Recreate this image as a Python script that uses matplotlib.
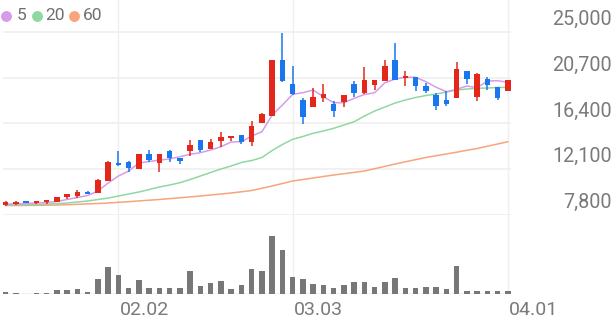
import matplotlib
matplotlib.use('Agg')
import matplotlib.pyplot as plt
import matplotlib.transforms as mtransforms
from matplotlib.lines import Line2D

plt.rcParams['font.family'] = ['Roboto', 'DejaVu Sans']

# daily candles, 01.16 .. 04.01 (50 trading days)
opens = [8738, 8832, 9086, 8898, 8992, 9048, 9517, 9611, 9986, 9893,
         10991, 12708, 12820, 12145, 13524, 12708, 13834, 13149, 13834, 14838,
         13993, 14744, 15026, 15307, 14678, 16461, 17118, 22317, 20065, 18592,
         17963, 18751, 18244, 18376, 20065, 19220, 19999, 20375, 22317, 20684,
         20722, 19933, 19089, 18620, 18779, 21313, 18873, 20534, 19783, 19464]
highs = [9067, 9067, 9100, 9130, 9200, 9530, 9760, 10146, 10052, 11178,
         12867, 13806, 12840, 13570, 13928, 13510, 13928, 13170, 14838, 14885,
         14960, 15617, 15260, 15320, 16649, 17400, 22330, 24851, 21810, 18751,
         19690, 20093, 18498, 19080, 20375, 21688, 20480, 22373, 23969, 21313,
         20740, 20215, 19248, 19464, 22186, 21330, 21153, 20722, 19800, 20480]
lows = [8691, 8738, 8880, 8804, 8860, 9040, 9301, 9423, 9780, 9880,
        10970, 12440, 11863, 12130, 12774, 11807, 12774, 12558, 13365, 13712,
        13980, 14153, 14772, 14463, 14303, 16440, 17100, 20253, 19100, 16311,
        17940, 18432, 16968, 17907, 18901, 19200, 19530, 20360, 20450, 19905,
        19464, 19277, 17653, 18057, 18760, 20093, 18526, 19502, 18620, 19450]
closes = [9020, 9020, 8898, 9114, 9179, 9517, 9742, 9986, 9799, 11084,
          12745, 12464, 12239, 13552, 12961, 13496, 13177, 12867, 14341, 13900,
          14650, 15091, 15241, 14678, 16152, 17250, 22317, 20375, 19126, 17024,
          18901, 19126, 17588, 19061, 19277, 20468, 20468, 21810, 20468, 20816,
          19905, 19464, 18057, 18188, 21473, 20534, 21003, 19999, 18807, 20468]

ma5 = [8832, 8832, 8879, 8926, 8973, 9067, 9255, 9442, 9630, 10052,
       10803, 11460, 11929, 12680, 12820, 12961, 13055, 13271, 13496, 13646,
       13900, 14209, 14650, 14678, 15213, 15617, 17184, 18122, 19126, 19277,
       19530, 18901, 18338, 18338, 18751, 19108, 19277, 20215, 20562, 20722,
       20722, 20309, 19783, 19370, 19596, 19905, 19746, 20375, 20403, 20253]
ma20 = [8738, 8757, 8767, 8785, 8832, 8860, 8926, 9020, 9114, 9255,
        9395, 9583, 9771, 9958, 10193, 10428, 10615, 10831, 11131, 11460,
        11788, 12117, 12398, 12727, 12914, 13196, 13853, 14416, 14904, 15166,
        15467, 15683, 15936, 16246, 16555, 17090, 17559, 17935, 18310, 18592,
        18826, 19014, 19155, 19342, 19530, 19624, 19690, 19718, 19765, 19783]
ma60 = [8691, 8691, 8701, 8710, 8720, 8738, 8767, 8804, 8842, 8879,
        8926, 8992, 9048, 9123, 9189, 9255, 9339, 9414, 9499, 9583,
        9677, 9771, 9864, 9977, 10099, 10306, 10521, 10756, 10991, 11131,
        11272, 11413, 11554, 11676, 11798, 11929, 12145, 12361, 12586, 12792,
        12999, 13196, 13365, 13524, 13693, 13871, 14040, 14256, 14463, 14678]

volumes = [85000, 35000, 15000, 50000, 65000, 200000, 200000, 250000, 85000, 765000,
           1365000, 965000, 285000, 715000, 300000, 315000, 300000, 315000, 1135000, 385000,
           550000, 650000, 250000, 435000, 1250000, 1135000, 2900000, 2165000, 865000, 765000,
           500000, 450000, 300000, 465000, 585000, 585000, 335000, 615000, 800000, 285000,
           300000, 365000, 365000, 265000, 1400000, 165000, 165000, 165000, 165000, 135000]

price_ticks = [7800, 12100, 16400, 20700, 25000]
date_ticks = [11, 28, 49]
date_labels = ['02.02', '03.03', '04.01']
ma_labels = ['5', '20', '60']

RED = '#e3281b'
BLUE = '#1877ee'
MA_COLORS = ['#d69ce9', '#8fd8a2', '#f8a47c']
GRID = '#efefef'
TXT = '#7a7a7a'

W, H = 616, 321
fig = plt.figure(figsize=(W / 100, H / 100), dpi=100)

ax = fig.add_axes([3 / W, (H - 215) / H, 508 / W, 215 / H])
axv = fig.add_axes([3 / W, (H - 294) / H, 508 / W, 79 / H])

n = len(closes)
xs = list(range(n))
for a in (ax, axv):
    a.set_xlim(-0.26, 49.3)
    for s in a.spines.values():
        s.set_visible(False)
    a.set_xticks([])
    a.set_yticks([])
    for d in date_ticks:
        a.axvline(d, color=GRID, lw=1, zorder=0)

ax.set_ylim(7800, 27976)
for p in price_ticks:
    ax.axhline(p, color=GRID, lw=1.2, zorder=0)

# moving averages
for vals, c in zip([ma60, ma20, ma5], MA_COLORS[::-1]):
    ax.plot(xs, vals, color=c, lw=1.1, zorder=2)

# candles
for i in xs:
    o, h, l, c = opens[i], highs[i], lows[i], closes[i]
    col = RED if c >= o else BLUE
    ax.vlines(i, l, h, color=col, lw=1.1, zorder=3)
    body = max(abs(c - o), 60)
    ax.bar(i, body, bottom=min(o, c), width=0.55, color=col, zorder=4)

# volume
axv.set_ylim(0, 3930000)
axv.axhline(0, color=GRID, lw=1.2, zorder=0)
axv.bar(xs, volumes, width=0.55, color='#777777', zorder=2)

# price labels on the right
tr = mtransforms.blended_transform_factory(fig.transFigure, ax.transData)
tr = mtransforms.offset_copy(tr, fig=fig, x=0, y=5.0, units='points')
for p in price_ticks:
    ax.text(612 / W, p, f'{p:,}', transform=tr, ha='right', va='baseline',
            fontsize=14.2, color=TXT)

# date labels
trx = mtransforms.blended_transform_factory(axv.transData, fig.transFigure)
trx = mtransforms.offset_copy(trx, fig=fig, x=0.8, y=0, units='points')
for d, lab in zip(date_ticks, date_labels):
    axv.text(d, (H - 315) / H, lab, transform=trx, ha='left', va='baseline',
             fontsize=14, color=TXT)

# legend
dot_x = [6.3, 37.3, 74]
txt_x = [16.5, 45.5, 82.5]
for dx, tx, c, lab in zip(dot_x, txt_x, MA_COLORS, ma_labels):
    fig.add_artist(Line2D([dx / W], [(H - 15.7) / H], marker='o', markersize=6.8,
                          color=c, transform=fig.transFigure, lw=0))
    fig.text(tx / W, (H - 15.7) / H, lab, ha='left', va='center',
             fontsize=12.5, color='#707070')

fig.savefig('out.png', dpi=100)
